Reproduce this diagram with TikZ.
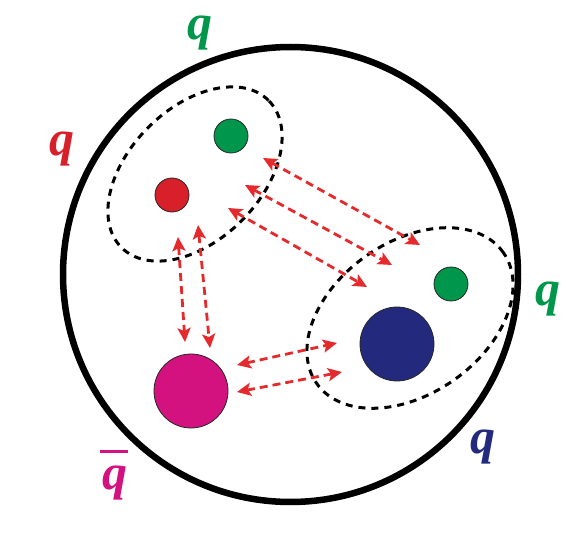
\documentclass[tikz,border=0pt]{standalone}
\usepackage{fontspec}
\setmainfont{Liberation Serif}
\usetikzlibrary{arrows.meta}
\definecolor{qgreen}{HTML}{00964B}
\definecolor{qred}{HTML}{D8202A}
\definecolor{qmag}{HTML}{D4127F}
\definecolor{qnavy}{HTML}{232A7D}
\definecolor{arr}{HTML}{E42A2C}
\begin{document}
\begin{tikzpicture}[x=1pt,y=-1pt,
  quark/.style={circle,draw=black!85,line width=0.8pt,inner sep=0pt,minimum size=#1},
  qlabel/.style={inner sep=0pt,font=\fontsize{50}{50}\selectfont\bfseries\itshape},
  hadron/.style={draw=black,dash pattern=on 7pt off 6pt,line width=3pt},
  glue/.style={draw=arr,line width=2.8pt,dash pattern=on 8pt off 5pt,
    {Stealth[length=14pt,width=13pt,inset=3pt]}-{Stealth[length=14pt,width=13pt,inset=3pt]}}]
\useasboundingbox (0,0) rectangle (566,543);
\fill[white] (0,0) rectangle (566,543);
% outer bag
\node[circle,draw=black,line width=6.5pt,minimum size=455pt,inner sep=0pt] (bag) at (290.5,274.5) {};
% clusters
\draw[hadron,rotate around={45:(195,174)}] (195,174) ellipse [x radius=104pt,y radius=66pt];
\draw[hadron,rotate around={35:(410,318)}] (410,318) ellipse [x radius=114pt,y radius=76pt];
% quarks
\node[quark=34pt,fill=qgreen] (g1) at (231,136) {};
\node[quark=34pt,fill=qred] (r1) at (172,195) {};
\node[quark=74pt,fill=qmag] (m1) at (191,391) {};
\node[quark=74pt,fill=qnavy] (n1) at (397,344) {};
\node[quark=34pt,fill=qgreen] (g2) at (451,284) {};
% arrow ends
\coordinate (a1) at (263,158); \coordinate (a2) at (420,245);
\coordinate (b1) at (245,185); \coordinate (b2) at (392,265);
\coordinate (c1) at (228,208); \coordinate (c2) at (367,287);
\coordinate (d1) at (178,237); \coordinate (d2) at (185,342);
\coordinate (e1) at (198,225); \coordinate (e2) at (210,348);
\coordinate (f1) at (237,365); \coordinate (f2) at (337,343);
\coordinate (h1) at (237,392); \coordinate (h2) at (342,372);
\draw[glue] (a1) -- (a2);
\draw[glue] (b1) -- (b2);
\draw[glue] (c1) -- (c2);
\draw[glue] (d1) -- (d2);
\draw[glue] (e1) -- (e2);
\draw[glue] (f1) -- (f2);
\draw[glue] (h1) -- (h2);
% labels
\node[qlabel,text=qgreen] (lg1) at (200,33) {q};
\node[qlabel,text=qred] (lr1) at (62,149) {q};
\node[qlabel,text=qgreen] (lg2) at (548,299) {q};
\node[qlabel,text=qnavy] (ln1) at (483,447) {q};
\node[qlabel,text=qmag] (lm1) at (115,483) {q};
\draw[qmag,line width=3pt] ([xshift=-2pt,yshift=14pt]lm1.north west) -- ([xshift=0pt,yshift=14pt]lm1.north east);
\end{tikzpicture}
\end{document}
